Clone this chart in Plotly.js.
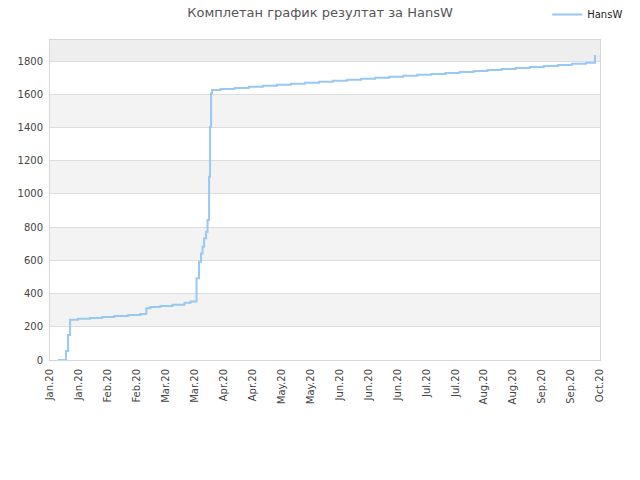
<!DOCTYPE html>
<html>
<head>
<meta charset="utf-8">
<script src="https://cdn.plot.ly/plotly-3.0.1.min.js"></script>
<style>
  html, body { margin: 0; padding: 0; background: #fff; }
  #myDiv { width: 640px; height: 480px; }
</style>
</head>
<body>
<div id="myDiv"></div>
<script>
// cumulative score of HansW, step by step
var dates = [
  '2020-01-05', '2020-01-09', '2020-01-10', '2020-01-11', '2020-01-15',
  '2020-01-21', '2020-01-27', '2020-02-02', '2020-02-09', '2020-02-15',
  '2020-02-18', '2020-02-20', '2020-02-25', '2020-03-02', '2020-03-08',
  '2020-03-11', '2020-03-14', '2020-03-15 06:00', '2020-03-16 06:00', '2020-03-17 00:00',
  '2020-03-17 18:00', '2020-03-18 18:00', '2020-03-19 12:00', '2020-03-20 06:00', '2020-03-20 18:00',
  '2020-03-21 06:00', '2020-03-21 18:00', '2020-03-26', '2020-04-02', '2020-04-09',
  '2020-04-16', '2020-04-23', '2020-04-30', '2020-05-07', '2020-05-14',
  '2020-05-21', '2020-05-28', '2020-06-04', '2020-06-11', '2020-06-18',
  '2020-06-25', '2020-07-02', '2020-07-09', '2020-07-16', '2020-07-23',
  '2020-07-30', '2020-08-06', '2020-08-13', '2020-08-20', '2020-08-27',
  '2020-09-03', '2020-09-10', '2020-09-17', '2020-09-24', '2020-09-28 12:00'
];
var scores = [
  0, 54, 150, 243, 249,
  253, 259, 265, 271, 277,
  311, 319, 325, 333, 345,
  352, 492, 592, 642, 682,
  733, 772, 843, 1104, 1405,
  1606, 1626, 1632, 1638, 1645,
  1651, 1657, 1663, 1669, 1675,
  1681, 1687, 1693, 1699, 1705,
  1711, 1717, 1723, 1729, 1735,
  1741, 1747, 1753, 1759, 1765,
  1771, 1777, 1784, 1790, 1836
];
var tickLabels = [
  'Jan.20', 'Jan.20', 'Feb.20', 'Feb.20', 'Mar.20', 'Mar.20', 'Apr.20', 'Apr.20',
  'May.20', 'May.20', 'Jun.20', 'Jun.20', 'Jun.20', 'Jul.20', 'Jul.20',
  'Aug.20', 'Aug.20', 'Sep.20', 'Sep.20', 'Oct.20'
];
var xStart = '2020-01-01';
var xEnd = '2020-10-01';
var yMax = 1927;
var yStep = 200;

// evenly spaced ticks across the range
var t0 = new Date(xStart).getTime();
var t1 = new Date(xEnd).getTime();
var tickVals = tickLabels.map(function (_, i) {
  return new Date(t0 + (t1 - t0) * i / (tickLabels.length - 1)).toISOString();
});

// alternating grey bands
var shapes = [];
for (var b = yStep; b < yMax; b += 2 * yStep) {
  shapes.push({
    type: 'rect', xref: 'paper', yref: 'y', layer: 'below',
    x0: 0, x1: 1, y0: b, y1: Math.min(b + yStep, yMax),
    fillcolor: '#f3f3f3', line: {width: 0}
  });
}
shapes.push({
  type: 'rect', xref: 'paper', yref: 'y', layer: 'below',
  x0: 0, x1: 1, y0: 1800, y1: yMax, fillcolor: '#eeeeee', line: {width: 0}
});

var trace = {
  x: dates,
  y: scores,
  name: 'HansW',
  type: 'scatter',
  mode: 'lines',
  line: {shape: 'hv', color: '#98c8f4', width: 2}
};

var layout = {
  width: 640,
  height: 480,
  margin: {l: 50, r: 40, t: 40, b: 120, autoexpand: false},
  paper_bgcolor: '#ffffff',
  plot_bgcolor: '#ffffff',
  font: {family: 'DejaVu Sans, sans-serif', size: 10, color: '#444444'},
  title: {
    text: 'Комплетан график резултат за HansW',
    font: {family: 'DejaVu Sans, sans-serif', size: 13, color: '#555555'},
    xref: 'container', x: 0.5, xanchor: 'center',
    yref: 'container', y: 0.975, yanchor: 'middle'
  },
  showlegend: true,
  legend: {
    xref: 'container', yref: 'container',
    x: 0.855, y: 1.0, xanchor: 'left', yanchor: 'top',
    font: {family: 'DejaVu Sans, sans-serif', size: 10, color: '#222222'},
    bgcolor: 'rgba(0,0,0,0)'
  },
  xaxis: {
    type: 'date',
    range: [xStart, xEnd],
    tickmode: 'array',
    tickvals: tickVals,
    ticktext: tickLabels,
    tickangle: -90,
    ticks: 'outside',
    ticklen: 4,
    tickcolor: 'rgba(0,0,0,0)',
    showgrid: false,
    zeroline: false,
    showline: true,
    linecolor: '#d6d6d6',
    linewidth: 1,
    mirror: true,
    tickfont: {size: 10, color: '#444444'}
  },
  yaxis: {
    range: [0, yMax],
    tickmode: 'linear',
    tick0: 0,
    dtick: yStep,
    ticks: 'outside',
    ticklen: 4,
    tickcolor: 'rgba(0,0,0,0)',
    showgrid: true,
    gridcolor: '#dddddd',
    zeroline: false,
    showline: true,
    linecolor: '#d6d6d6',
    linewidth: 1,
    mirror: true,
    tickfont: {size: 10, color: '#444444'}
  },
  shapes: shapes
};

Plotly.newPlot('myDiv', [trace], layout, {displayModeBar: false, staticPlot: true});
</script>
</body>
</html>
